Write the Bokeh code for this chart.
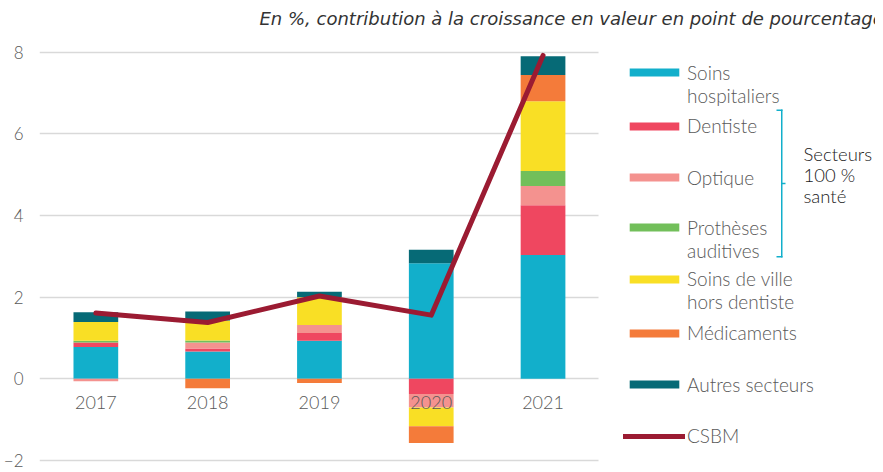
from bokeh.plotting import figure
from bokeh.models import (ColumnDataSource, Legend, LegendItem, Label, BoxAnnotation,
                          FixedTicker, Range1d)
from bokeh.core.properties import value
from bokeh.embed import file_html
from bokeh.resources import INLINE
import numpy as np

years = ["2017", "2018", "2019", "2020", "2021"]
year_pos = [2017, 2018, 2019, 2020, 2021]

series_names = ["Soins\nhospitaliers", "Dentiste", "Optique", "Prothèses\nauditives",
                "Soins de ville\nhors dentiste", "Médicaments", "Autres secteurs"]
soins_hospitaliers = [0.78, 0.67, 0.93, 2.83, 3.03]
dentiste = [0.11, 0.07, 0.19, -0.37, 1.22]
optique = [-0.06, 0.15, 0.20, -0.33, 0.47]
protheses = [0.04, 0.05, 0.00, 0.00, 0.37]
soins_ville = [0.46, 0.49, 0.68, -0.46, 1.71]
medicaments = [0.00, -0.23, -0.10, -0.41, 0.64]
autres = [0.24, 0.22, 0.13, 0.33, 0.46]
csbm = [1.61, 1.38, 2.03, 1.56, 7.92]

colors = ["#12AFCB", "#EF4760", "#F4928F", "#72BF5A", "#F9DF25", "#F47B3A", "#066A76"]
csbm_color = "#9B1B32"

series_values = [soins_hospitaliers, dentiste, optique, protheses, soins_ville,
                 medicaments, autres]

FONT = "Lato Light, Lato"
GREY = "#595959"
LINE_PX = 21.0


def legend_label(name):
    # two-line names get a blank first line so the swatch sits on "line 1"
    lines = name.split("\n")
    if len(lines) == 1:
        return name, LINE_PX
    return "\n".join([" "] + lines), 3 * LINE_PX


W, H = 875, 470
LEFT = 30
PX_PER_YEAR = 113.0
x_start = 2016.496
x_end = x_start + (W - LEFT) / PX_PER_YEAR

p = figure(x_range=Range1d(x_start, x_end), y_range=Range1d(-2.245, 9.266),
           width=W, height=H,
           output_backend="svg", toolbar_location=None, x_axis_location=None,
           min_border_left=LEFT, min_border_right=0, min_border_top=0,
           min_border_bottom=0)
p.outline_line_color = None
p.xgrid.grid_line_color = None
p.ygrid.grid_line_color = "#d9d9d9"
p.ygrid.grid_line_width = 1.5
p.ygrid.cross_bounds = (2016.5, 2021.5)
p.yaxis.ticker = FixedTicker(ticks=[-2, 0, 2, 4, 6, 8])
p.yaxis.axis_line_color = None
p.yaxis.major_tick_line_color = None
p.yaxis.minor_tick_line_color = None
p.yaxis.major_tick_out = 0
p.yaxis.major_tick_in = 0
p.yaxis.minor_tick_out = 0
p.yaxis.major_label_standoff = 16
p.yaxis.major_label_text_font = FONT
p.yaxis.major_label_text_font_size = "17px"
p.yaxis.major_label_text_color = GREY

pos_base = np.zeros(len(years))
neg_base = np.zeros(len(years))
items = []
for name, vals, col in zip(series_names, series_values, colors):
    v = np.array(vals, dtype=float)
    bottom = np.where(v >= 0, pos_base, neg_base)
    top = bottom + v
    pos_base = np.where(v >= 0, top, pos_base)
    neg_base = np.where(v < 0, top, neg_base)
    src = ColumnDataSource(dict(x=year_pos, bottom=bottom, top=top))
    r = p.vbar(x="x", bottom="bottom", top="top", width=0.4, source=src,
               fill_color=col, line_color=None)
    lab, h = legend_label(name)
    items.append((LegendItem(label=lab, renderers=[r]), h))

line_src = ColumnDataSource(dict(x=year_pos, csbm=csbm))
lr = p.line(x="x", y="csbm", source=line_src, line_color=csbm_color, line_width=5,
            line_join="round", line_cap="round")
lab, h = legend_label("CSBM")
items.append((LegendItem(label=lab, renderers=[lr]), h))

lab_src = ColumnDataSource(dict(x=year_pos, zero=[0] * len(years), year=years))
p.text(x="x", y="zero", text="year", source=lab_src, text_align="center",
       text_baseline="middle", y_offset=24, text_font=value(FONT),
       text_font_size="18px", text_color=GREY)

# one legend block per entry, stacked with a regular row pitch
ROW_PITCH = 51.7
FIRST_ROW = 75.0
for k, (it, item_h) in enumerate(items):
    centre = FIRST_ROW + k * ROW_PITCH
    vy = H - (centre + item_h / 2)
    lg = Legend(items=[it], location=(584, vy), padding=0, margin=0,
                border_line_color=None, background_fill_alpha=0,
                glyph_width=62, glyph_height=10, label_standoff=2,
                label_height=20,
                label_text_font=FONT, label_text_font_size="19px",
                label_text_color=GREY, label_text_line_height=1.18, spacing=0)
    p.add_layout(lg)

p.add_layout(Label(x=220, y=452, x_units="screen", y_units="screen",
                   text="En %, contribution à la croissance en valeur en point de pourcentage",
                   text_font="DejaVu Sans", text_font_style="italic", text_font_size="18px",
                   text_color="#333333", text_baseline="middle"))

br_col = "#12AFCB"
for (l, r_, b, t) in [(741.5, 743.0, 213, 361), (737, 743, 213, 214.5),
                      (737, 743, 359.5, 361), (742, 746, 286.3, 287.7)]:
    p.add_layout(BoxAnnotation(left=l, right=r_, bottom=b, top=t,
                               left_units="screen", right_units="screen",
                               bottom_units="screen", top_units="screen",
                               fill_color=br_col, fill_alpha=1, line_color=None))

p.add_layout(Label(x=764, y=327.5, x_units="screen", y_units="screen",
                   text="Secteurs\n100 %\nsanté", text_font=FONT,
                   text_font_size="18.5px", text_color="#1a1a1a",
                   text_baseline="top", text_line_height=0.95))

open("out.html", "w").write(file_html(p, INLINE))
